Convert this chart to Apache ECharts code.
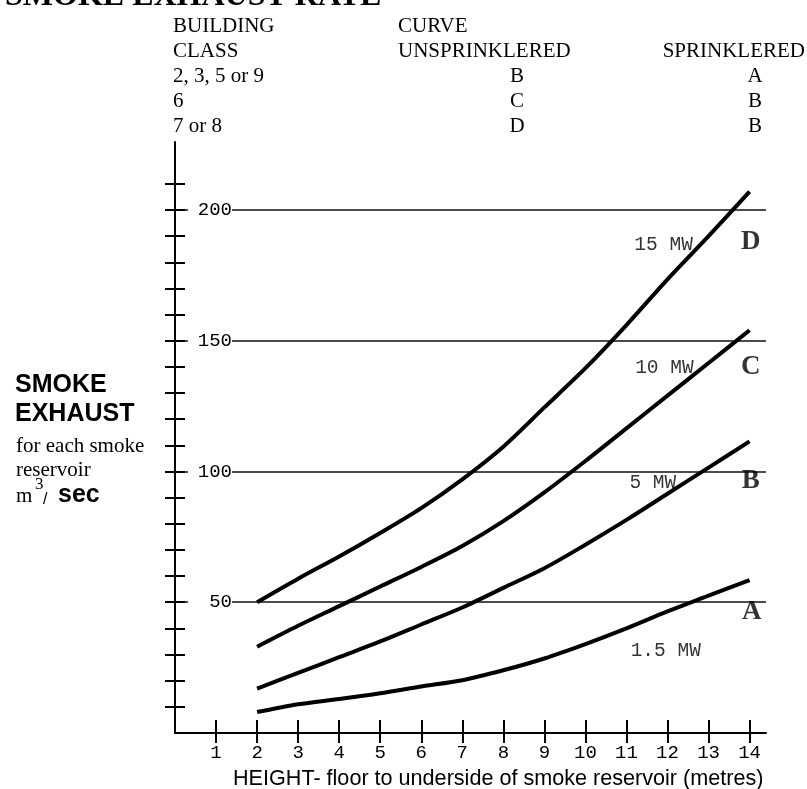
<!DOCTYPE html>
<html>
<head>
<meta charset="utf-8">
<script src="https://cdn.jsdelivr.net/npm/echarts@6/dist/echarts.min.js"></script>
<style>
html,body{margin:0;padding:0;background:#fff;}
#chart{width:807px;height:789px;}
</style>
</head>
<body>
<div id="chart"></div>
<script>
// ---- data ----
const heights = [2, 3, 4, 5, 6, 7, 8, 9, 10, 11, 12, 13, 14];
const curveA = [8, 11, 13, 15.2, 17.8, 20.2, 24, 28.5, 34, 40, 46.5, 52.5, 58.5];      // 1.5 MW
const curveB = [17, 23, 29, 35, 41.5, 48, 55.5, 63, 72, 81.5, 91.5, 101.5, 111.5];       // 5 MW
const curveC = [33, 41, 48.5, 56, 63.5, 71.5, 81, 92, 104, 116.5, 129, 141.5, 154];      // 10 MW
const curveD = [50, 59, 67.5, 76.5, 86, 97, 109.5, 124.5, 139.5, 156, 173.5, 190, 207]; // 15 MW
const xTicks = [1, 2, 3, 4, 5, 6, 7, 8, 9, 10, 11, 12, 13, 14];
const yTicks = [10, 20, 30, 40, 50, 60, 70, 80, 90, 100, 110, 120, 130, 140, 150, 160, 170, 180, 190, 200, 210];
const refLevels = [50, 100, 150, 200];
const fireNames = ['15 MW', '10 MW', '5 MW', '1.5 MW'];
const fireLabelAt = [[11.18, 186.6], [11.2, 139.8], [11.06, 95.6], [11.09, 31.4]];
const curveLetters = ['D', 'C', 'B', 'A'];
const letterAt = [[14.03, 187.8], [14.03, 139.8], [14.03, 96.4], [14.05, 46.3]];
const tableCol1 = ['BUILDING', 'CLASS', '2, 3, 5 or 9', '6', '7 or 8'];
const tableCol2Head = ['CURVE', 'UNSPRINKLERED'];
const tableCol2 = ['B', 'C', 'D'];
const tableCol3Head = 'SPRINKLERED';
const tableCol3 = ['A', 'B', 'B'];

const SERIF = 'Liberation Serif';
const SANS = 'Liberation Sans';
const MONO = 'Liberation Mono';

const chart = echarts.init(document.getElementById('chart'), null, {renderer: 'canvas'});

function curveSeries(vals, name) {
  return {
    type: 'line', name: name, xAxisIndex: 0, yAxisIndex: 0,
    data: heights.map((h, i) => [h, vals[i]]),
    symbol: 'none', smooth: 0.3,
    lineStyle: {color: '#000', width: 4},
    z: 3
  };
}

const serifT = (size, extra) => Object.assign({fontFamily: SERIF, fontSize: size, color: '#000', fontWeight: 'normal'}, extra || {});

chart.setOption({
  animation: false,
  backgroundColor: '#fff',
  title: [
    {text: 'SMOKE EXHAUST RATE', left: 5, top: -19, padding: 0,
     textStyle: serifT(32, {fontWeight: 'bold', lineHeight: 32})},
    {text: tableCol1.join('\n'), left: 173, top: 13.5, padding: 0, textStyle: serifT(21, {lineHeight: 25})},
    {text: tableCol2Head.join('\n'), left: 398, top: 13.5, padding: 0, textStyle: serifT(21, {lineHeight: 25})},
    {text: tableCol2.join('\n'), left: 517, top: 63.5, padding: 0, textAlign: 'center', textStyle: serifT(21, {lineHeight: 25})},
    {text: tableCol3Head, right: 2, top: 38.5, padding: 0, textStyle: serifT(21, {lineHeight: 25})},
    {text: tableCol3.join('\n'), left: 755, top: 63.5, padding: 0, textAlign: 'center', textStyle: serifT(21, {lineHeight: 25})},
    {text: 'SMOKE\nEXHAUST', left: 15, top: 370.5, padding: 0,
     textStyle: {fontFamily: SANS, fontWeight: 'bold', fontSize: 25, lineHeight: 29, color: '#000'}},
    {text: 'for each smoke\nreservoir', left: 16, top: 434.3, padding: 0, textStyle: serifT(21, {lineHeight: 24})},
    {text: 'm', left: 16, top: 485.8, padding: 0, textStyle: serifT(21, {lineHeight: 21})},
    {text: '3', left: 35, top: 476, padding: 0, textStyle: serifT(17, {lineHeight: 17})},
    {text: '/', left: 43, top: 492, padding: 0, textStyle: {fontFamily: SANS, fontSize: 16, lineHeight: 16, color: '#000', fontWeight: 'normal'}},
    {text: 'sec', left: 58, top: 482.5, padding: 0,
     textStyle: {fontFamily: SANS, fontWeight: 'bold', fontSize: 25, lineHeight: 25, color: '#000'}},
    {text: 'HEIGHT- floor to underside of smoke reservoir (metres)', left: 233, top: 768, padding: 0,
     textStyle: {fontFamily: SANS, fontSize: 21.6, lineHeight: 21.6, color: '#000', fontWeight: 'normal'}}
  ],
  grid: {left: 175, top: 142, width: 591, height: 591, containLabel: false},
  xAxis: [
    {type: 'value', gridIndex: 0, position: 'bottom', min: 0, max: 14.4,
     axisLine: {show: true, onZero: false, lineStyle: {color: '#000', width: 2}},
     axisTick: {show: true, inside: false, length: 10, customValues: xTicks, lineStyle: {color: '#000', width: 2}},
     axisLabel: {show: true, customValues: xTicks, margin: 10, color: '#000', fontFamily: MONO, fontSize: 19},
     splitLine: {show: false}},
    {type: 'value', gridIndex: 0, position: 'bottom', min: 0, max: 14.4,
     axisLine: {show: false},
     axisTick: {show: true, inside: true, length: 13, customValues: xTicks, lineStyle: {color: '#000', width: 2}},
     axisLabel: {show: false}, splitLine: {show: false}}
  ],
  yAxis: [
    {type: 'value', gridIndex: 0, position: 'left', min: 0, max: 226,
     axisLine: {show: true, onZero: false, lineStyle: {color: '#000', width: 2}},
     axisTick: {show: true, inside: false, length: 10, customValues: yTicks, lineStyle: {color: '#000', width: 2}},
     axisLabel: {show: false}, splitLine: {show: false}},
    {type: 'value', gridIndex: 0, position: 'left', min: 0, max: 226,
     axisLine: {show: false},
     axisTick: {show: true, inside: true, length: 10, customValues: yTicks, lineStyle: {color: '#000', width: 2}},
     axisLabel: {show: false}, splitLine: {show: false}},
    {type: 'value', gridIndex: 0, position: 'left', min: 0, max: 226, z: 0,
     axisLine: {show: false},
     axisTick: {show: false, customValues: refLevels},
     axisLabel: {show: false, customValues: refLevels},
     splitLine: {show: true, lineStyle: {color: '#111', width: 1.6}}},
    {type: 'value', gridIndex: 0, position: 'left', min: 0, max: 226, z: 1,
     axisLine: {show: false},
     axisTick: {show: false, customValues: refLevels},
     axisLabel: {show: true, inside: true, customValues: refLevels, margin: 57, align: 'right',
                 width: 44, backgroundColor: '#fff', color: '#000', fontFamily: MONO, fontSize: 19},
     splitLine: {show: false}}
  ],
  series: [
    curveSeries(curveA, '1.5 MW'),
    curveSeries(curveB, '5 MW'),
    curveSeries(curveC, '10 MW'),
    curveSeries(curveD, '15 MW'),
    {type: 'scatter', xAxisIndex: 0, yAxisIndex: 0, symbolSize: 1, silent: true,
     itemStyle: {color: 'rgba(0,0,0,0)'},
     data: fireNames.map((n, i) => ({name: n, value: fireLabelAt[i]})),
     label: {show: true, position: 'right', distance: 0, formatter: '{b}', color: '#000', fontFamily: MONO, fontSize: 19.5},
     z: 2},
    {type: 'scatter', xAxisIndex: 0, yAxisIndex: 0, symbolSize: 1, silent: true,
     itemStyle: {color: 'rgba(0,0,0,0)'},
     data: curveLetters.map((n, i) => ({name: n, value: letterAt[i]})),
     label: {show: true, position: 'inside', formatter: '{b}', color: '#000', fontFamily: SERIF, fontWeight: 'bold', fontSize: 27},
     z: 4}
  ]
});
</script>
</body>
</html>
